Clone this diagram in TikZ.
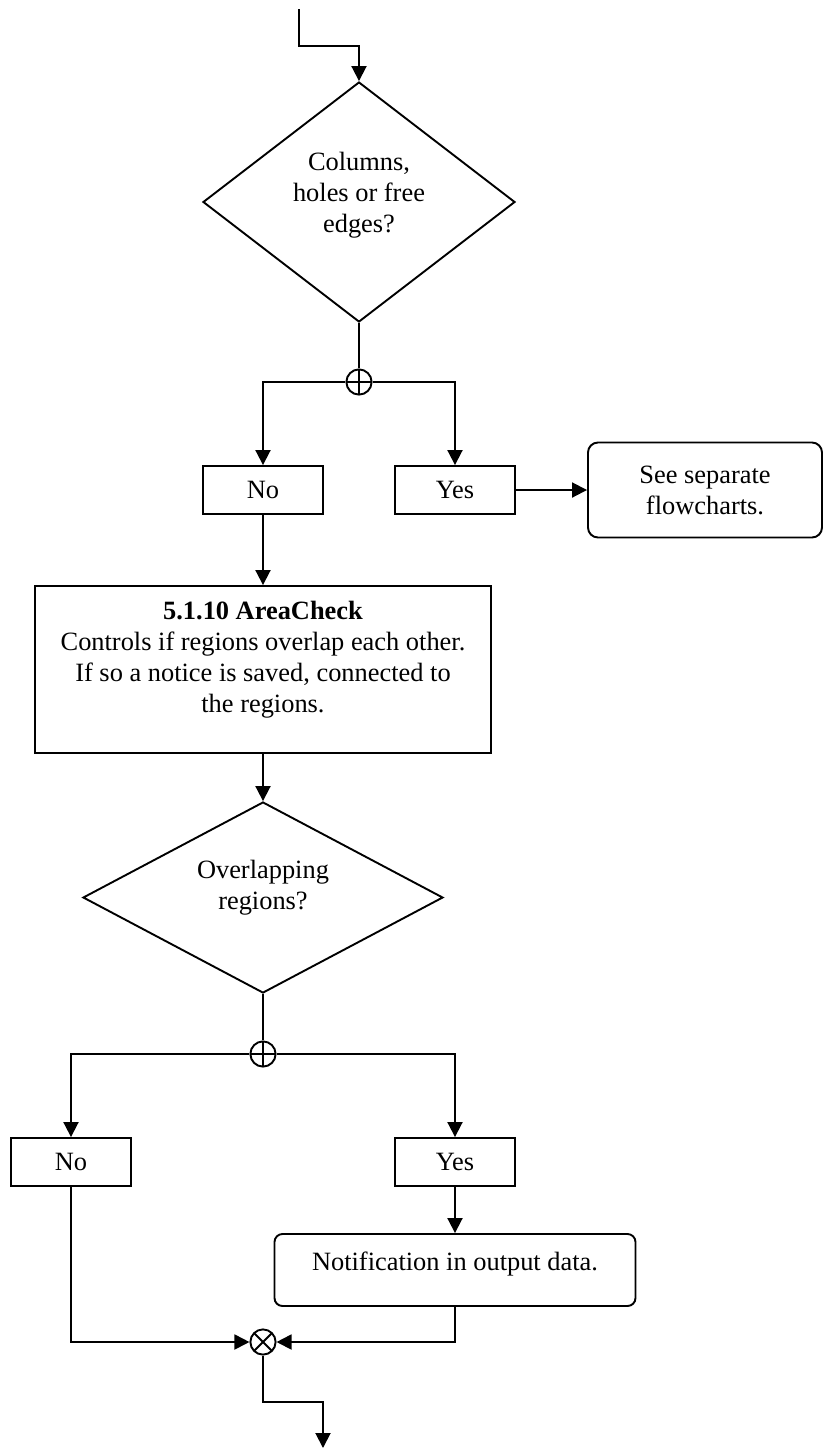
\documentclass[tikz,border=0pt]{standalone}
\usepackage{fontspec}
\setmainfont{Liberation Serif}
\usepackage{tikz}
\usetikzlibrary{positioning, shapes.geometric, arrows.meta}

\begin{document}
\begin{tikzpicture}[line width=0.95pt, on grid, >={Triangle[length=7.5pt, width=7.5pt]},
  every node/.style={font=\fontsize{13.2}{15.5}\selectfont, align=center},
  decision/.style={draw, diamond, inner sep=0pt},
  answer/.style={draw, rectangle, minimum width=60pt, minimum height=24pt},
  process/.style={draw, rectangle, minimum width=228pt, minimum height=83.5pt},
  terminal/.style={draw, rectangle, rounded corners=5pt},
  junction/.style={draw, circle, minimum size=12.6pt, inner sep=0pt},
  sumjoin/.style={junction, path picture={
      \draw (path picture bounding box.north) -- (path picture bounding box.south)
            (path picture bounding box.west) -- (path picture bounding box.east);}},
  mergejoin/.style={junction, path picture={
      \draw (path picture bounding box.north west) -- (path picture bounding box.south east)
            (path picture bounding box.north east) -- (path picture bounding box.south west);}}]

  \useasboundingbox (-179.5pt,101pt) rectangle (232pt,-623pt);

  % First question
  \node (d1) [decision, aspect=1.3, minimum width=156pt, minimum height=120pt, text depth=10pt]
    {Columns,\\ holes or free\\ edges?};
  \coordinate [above left=96.5pt and 30pt of d1] (start);
  \node (j1) [sumjoin, below=90pt of d1] {};
  \node (no1) [answer, below left=54pt and 48pt of j1] {No};
  \node (yes1) [answer, right=96pt of no1] {Yes};
  \node (sep) [terminal, right=125pt of yes1, minimum width=117pt, minimum height=47.5pt]
    {See separate\\ flowcharts.};

  \draw[->] (start) -- ++(0,-18.5pt) -| (d1);
  \draw (d1) -- (j1);
  \draw[->] (j1) -| (no1);
  \draw[->] (j1) -| (yes1);
  \draw[->] (yes1) -- (sep);

  % Area check
  \node (area) [process, below=89.75pt of no1, text depth=13pt]
    {\textbf{5.1.10 AreaCheck}\\ Controls if regions overlap each other.\\
     If so a notice is saved, connected to\\ the regions.};
  \draw[->] (no1) -- (area);

  % Second question
  \node (d2) [decision, aspect=1.885, minimum width=180pt, minimum height=95.5pt, text depth=13pt,
    below=114pt of area] {Overlapping\\ regions?};
  \node (j2) [sumjoin, below=78.25pt of d2] {};
  \node (no2) [answer, below left=54pt and 96pt of j2] {No};
  \node (yes2) [answer, below right=54pt and 96pt of j2] {Yes};
  \node (note) [terminal, below=54pt of yes2, rounded corners=4pt, minimum width=180.5pt,
    minimum height=36pt, text depth=9pt] {Notification in output data.};
  \node (merge) [mergejoin, below=144pt of j2] {};
  \coordinate [below right=53pt and 30pt of merge] (stop);

  \draw[->] (area) -- (d2);
  \draw (d2) -- (j2);
  \draw[->] (j2) -| (no2);
  \draw[->] (j2) -| (yes2);
  \draw[->] (yes2) -- (note);
  \draw[->] (no2) |- (merge);
  \draw[->] (note) |- (merge);
  \draw[->] (merge) -- ++(0,-30pt) -| (stop);

\end{tikzpicture}
\end{document}
